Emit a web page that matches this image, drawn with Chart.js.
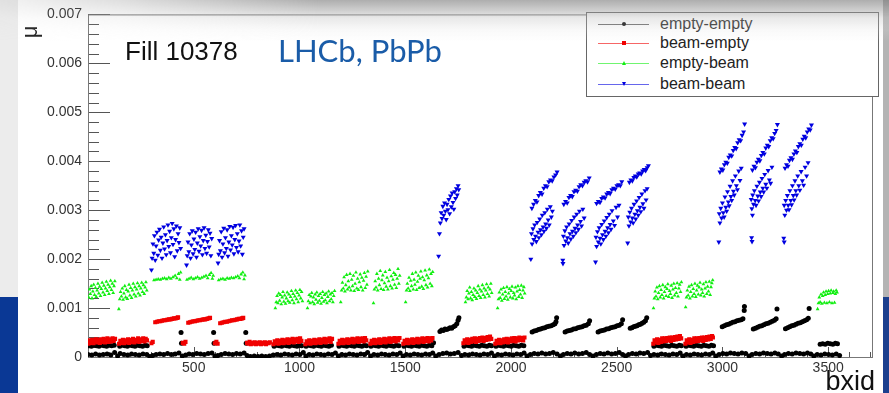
<!DOCTYPE html>
<html>
<head>
<meta charset="utf-8">
<title>Fill 10378 - mu per bxid</title>
<script src="https://cdn.jsdelivr.net/npm/chart.js@4.4.1/dist/chart.umd.min.js"></script>
<style>
    html, body { margin: 0; padding: 0; }
    body {
        width: 889px; height: 393px; position: relative; overflow: hidden;
        background: #fff; font-family: "Liberation Sans", Arial, sans-serif;
    }
    .strip { position: absolute; }
    #leftGrey  { left: 0; top: 0; width: 18px; height: 297px; background: #ececec; }
    #leftBlue  { left: 0; top: 297px; width: 18px; height: 96px; background: #0a3895; }
    #rightGrey { left: 883px; top: 0; width: 6px; height: 297px; background: #b4b4b4; }
    #rightBlue { left: 883px; top: 297px; width: 6px; height: 96px; background: #1b3f8e; }
    #wrap { position: absolute; left: 0; top: 0; width: 889px; height: 393px; }
    .txt { position: absolute; white-space: nowrap; line-height: 1; }
    #muLabel { left: 24px; top: 21px; font-size: 22px; color: #222; transform: rotate(-90deg); transform-origin: 50% 50%; }
    #fillLabel { left: 125px; top: 38px; font-size: 26px; color: #111; }
    #lhcbLabel { left: 278px; top: 35px; font-size: 31px; color: #1a5ca8; font-family: Lato, "Open Sans", sans-serif; }
    #bxidLabel { right: 14px; top: 368px; font-size: 27px; color: #111; }
    #legend {
        position: absolute; left: 586px; top: 12px; width: 293px; height: 85px;
        background: #fff; border: 1px solid #666; box-sizing: border-box;
    }
    .legRow { position: absolute; left: 0; width: 100%; height: 20px; }
    .legLine { position: absolute; left: 11px; top: 10px; width: 51px; height: 1px; opacity: 0.6; }
    .legMark { position: absolute; }
    .legText { position: absolute; left: 73px; top: 2px; font-size: 16px; color: #222; line-height: 1; }
    #topShade {
        position: absolute; left: 0; top: 0; width: 889px; height: 42px; pointer-events: none;
        background: linear-gradient(to bottom, rgba(120,120,120,0.6) 0px, rgba(150,150,150,0.5) 9px,
            rgba(190,190,190,0.35) 18px, rgba(225,225,225,0.2) 30px, rgba(255,255,255,0) 42px);
        -webkit-mask-image: linear-gradient(to right, rgba(0,0,0,0.15) 0px, rgba(0,0,0,0.4) 120px, rgba(0,0,0,1) 320px);
        mask-image: linear-gradient(to right, rgba(0,0,0,0.15) 0px, rgba(0,0,0,0.4) 120px, rgba(0,0,0,1) 320px);
    }
</style>
</head>
<body>
<div class="strip" id="leftGrey"></div>
<div class="strip" id="leftBlue"></div>
<div class="strip" id="rightGrey"></div>
<div class="strip" id="rightBlue"></div>
<div id="wrap"><canvas id="muChart" width="889" height="393"></canvas></div>
<div class="txt" id="muLabel">μ</div>
<div class="txt" id="fillLabel">Fill 10378</div>
<div class="txt" id="lhcbLabel">LHCb, PbPb</div>
<div class="txt" id="bxidLabel">bxid</div>
<div id="legend"></div>
<div id="topShade"></div>

<script>
// ---- data (mu in units of 1e-3) ----
const seriesNames = ['empty-empty', 'beam-empty', 'empty-beam', 'beam-beam'];

const xTickValues = [500, 1000, 1500, 2000, 2500, 3000, 3500];
const xTickLabels = ['500', '1000', '1500', '2000', '2500', '3000', '3500'];
const yTickValues = [0, 1, 2, 3, 4, 5, 6, 7];
const yTickLabels = ['0', '0.001', '0.002', '0.003', '0.004', '0.005', '0.006', '0.007'];

// empty-empty: baseline row near zero
const emptyEmptyBase = [
    [0,0.05],[18,0.04],[36,0.06],[54,0.04],[72,0.05],[90,0.06],[108,0.04],[126,0.09],[140,0.02],[152,0.07],
    [170,0.05],[188,0.04],[206,0.06],[224,0.05],[242,0.04],[260,0.06],[278,0.05],[292,0.01],
    [306,0.03],[322,0.05],[340,0.06],[358,0.05],[376,0.07],[394,0.05],[412,0.06],[430,0.08],[446,0.02],
    [462,0.04],[478,0.06],[496,0.05],[514,0.07],[532,0.06],[550,0.05],[568,0.07],[586,0.08],[600,0.02],
    [614,0.03],[630,0.05],[648,0.07],[666,0.06],[684,0.05],[702,0.07],[720,0.06],[738,0.08],[752,0.03],
    [768,0.01],[786,0.02],[804,0.01],[822,0.02],[840,0.01],[858,0.02],[876,0.04],[894,0.05],[912,0.04],
    [930,0.06],[948,0.05],[966,0.04],[984,0.06],[1002,0.05],[1018,0.09],[1030,0.02],[1046,0.05],[1064,0.04],
    [1082,0.06],[1100,0.05],[1118,0.04],[1136,0.06],[1154,0.05],[1170,0.08],[1184,0.02],[1200,0.05],
    [1218,0.04],[1236,0.06],[1254,0.05],[1272,0.04],[1290,0.06],[1308,0.05],[1322,0.09],[1336,0.02],
    [1352,0.05],[1370,0.04],[1388,0.06],[1406,0.05],[1424,0.04],[1442,0.06],[1460,0.05],[1476,0.08],
    [1490,0.02],[1506,0.05],[1524,0.04],[1542,0.06],[1560,0.05],[1578,0.04],[1596,0.06],[1614,0.05],
    [1630,0.08],[1644,0.02],[1660,0.05],[1678,0.07],[1696,0.08],[1714,0.06],[1732,0.07],[1750,0.09],
    [1766,0.03],[1782,0.05],[1800,0.04],[1818,0.06],[1836,0.05],[1854,0.04],[1872,0.06],[1890,0.05],
    [1908,0.08],[1922,0.02],[1938,0.05],[1956,0.04],[1974,0.06],[1992,0.05],[2010,0.04],[2028,0.06],
    [2046,0.05],[2062,0.08],[2076,0.02],[2092,0.05],[2110,0.07],[2128,0.06],[2146,0.08],[2164,0.06],
    [2182,0.07],[2200,0.09],[2218,0.06],[2234,0.02],[2248,0.05],[2266,0.07],[2284,0.06],[2302,0.08],
    [2320,0.06],[2338,0.07],[2356,0.09],[2372,0.05],[2388,0.02],[2404,0.05],[2422,0.07],[2440,0.06],
    [2458,0.08],[2476,0.06],[2494,0.07],[2512,0.09],[2528,0.05],[2542,0.02],[2556,0.05],[2574,0.07],
    [2592,0.06],[2610,0.08],[2628,0.07],[2646,0.09],[2660,0.03],[2676,0.05],[2694,0.04],[2712,0.06],
    [2730,0.05],[2748,0.04],[2766,0.06],[2784,0.05],[2800,0.08],[2814,0.02],[2830,0.05],[2848,0.04],
    [2866,0.06],[2884,0.05],[2902,0.04],[2920,0.06],[2938,0.05],[2954,0.08],[2968,0.02],[2984,0.05],
    [3002,0.07],[3020,0.06],[3038,0.08],[3056,0.07],[3074,0.06],[3092,0.08],[3110,0.07],[3126,0.02],
    [3140,0.05],[3158,0.07],[3176,0.06],[3194,0.08],[3212,0.07],[3230,0.06],[3248,0.08],[3264,0.06],
    [3280,0.02],[3294,0.05],[3312,0.07],[3330,0.06],[3348,0.08],[3366,0.07],[3384,0.06],[3402,0.08],
    [3418,0.06],[3432,0.02],[3448,0.05],[3466,0.04],[3484,0.06],[3502,0.05],[3520,0.04],[3538,0.06],
    [3554,0.03]
];

// empty-empty: row just below the beam-empty trains
const emptyEmptyMid = [
    [4,0.23],[16,0.22],[28,0.24],[40,0.23],[52,0.22],[64,0.24],[76,0.23],[88,0.22],[100,0.24],[112,0.23],[124,0.24],
    [150,0.22],[162,0.24],[174,0.23],[186,0.22],[198,0.24],[210,0.23],[222,0.22],[234,0.24],[246,0.23],[258,0.22],[270,0.24],[280,0.23],
    [440,0.50],[442,0.28],[594,0.50],[596,0.28],[746,0.50],[748,0.28],
    [880,0.22],[892,0.24],[904,0.23],[916,0.22],[928,0.24],[940,0.23],[952,0.22],[964,0.24],[976,0.23],[988,0.22],[1000,0.24],[1010,0.23],
    [1031,0.22],[1043,0.24],[1055,0.23],[1067,0.22],[1079,0.24],[1091,0.23],[1103,0.22],[1115,0.24],[1127,0.23],[1139,0.22],[1151,0.24],
    [1187,0.22],[1199,0.24],[1211,0.23],[1223,0.22],[1235,0.24],[1247,0.23],[1259,0.22],[1271,0.24],[1283,0.23],[1295,0.22],[1307,0.24],[1317,0.23],
    [1338,0.22],[1350,0.24],[1362,0.23],[1374,0.22],[1386,0.24],[1398,0.23],[1410,0.22],[1422,0.24],[1434,0.23],[1446,0.22],[1458,0.24],[1470,0.23],
    [1494,0.22],[1506,0.24],[1518,0.23],[1530,0.22],[1542,0.24],[1554,0.23],[1566,0.22],[1578,0.24],[1590,0.23],[1602,0.22],[1614,0.24],[1626,0.23],[1634,0.29],
    [1778,0.22],[1790,0.24],[1802,0.23],[1814,0.22],[1826,0.24],[1838,0.23],[1850,0.22],[1862,0.24],[1874,0.23],[1886,0.22],[1898,0.24],[1908,0.23],
    [1929,0.22],[1941,0.24],[1953,0.23],[1965,0.22],[1977,0.24],[1989,0.23],[2001,0.22],[2013,0.24],[2025,0.23],[2037,0.22],[2049,0.24],[2061,0.23],
    [2676,0.22],[2688,0.24],[2700,0.23],[2712,0.22],[2724,0.24],[2736,0.23],[2748,0.22],[2760,0.24],[2772,0.23],[2784,0.22],[2796,0.24],[2806,0.23],
    [2828,0.22],[2840,0.24],[2852,0.23],[2864,0.22],[2876,0.24],[2888,0.23],[2900,0.22],[2912,0.24],[2924,0.23],[2936,0.22],[2948,0.24],[2958,0.23],
    [3462,0.26],[3474,0.27],[3486,0.26],[3498,0.28],[3510,0.27],[3522,0.26],[3534,0.28],[3544,0.27]
];

// empty-empty: raised rows between the beam-beam trains
const emptyEmptyHigh = [
    [1664,0.52],[1672,0.55],[1680,0.54],[1688,0.57],[1696,0.56],[1704,0.58],[1712,0.60],[1720,0.59],[1728,0.62],[1736,0.64],[1744,0.68],[1750,0.75],[1754,0.80],
    [2100,0.51],[2110,0.53],[2120,0.54],[2130,0.56],[2140,0.57],[2150,0.59],[2160,0.60],[2170,0.62],[2180,0.63],[2190,0.64],[2200,0.66],[2208,0.68],[2213,0.72],[2216,0.80],
    [2256,0.51],[2266,0.53],[2276,0.54],[2286,0.55],[2296,0.57],[2306,0.58],[2316,0.60],[2326,0.61],[2336,0.62],[2346,0.64],[2356,0.65],[2366,0.68],[2372,0.74],
    [2412,0.51],[2422,0.53],[2432,0.54],[2442,0.55],[2452,0.57],[2462,0.58],[2472,0.60],[2482,0.61],[2492,0.62],[2502,0.64],[2512,0.65],[2522,0.68],[2528,0.76],
    [2564,0.59],[2572,0.60],[2580,0.62],[2588,0.63],[2596,0.64],[2604,0.66],[2612,0.67],[2620,0.69],[2628,0.71],[2636,0.74],[2642,0.80],
    [2999,0.62],[3009,0.64],[3019,0.66],[3029,0.67],[3039,0.69],[3049,0.71],[3059,0.72],[3069,0.74],[3079,0.75],[3089,0.76],[3097,0.78],[3103,0.95],[3104,1.03],
    [3146,0.57],[3156,0.59],[3166,0.61],[3176,0.63],[3186,0.64],[3196,0.66],[3206,0.68],[3216,0.69],[3226,0.71],[3236,0.73],[3246,0.75],[3254,0.78],[3258,0.98],
    [3298,0.58],[3308,0.60],[3318,0.62],[3328,0.64],[3338,0.65],[3348,0.67],[3358,0.69],[3368,0.70],[3378,0.72],[3388,0.74],[3398,0.76],[3406,0.79],[3410,0.99]
];

// beam-empty
const beamEmpty = [
    [2,0.27],[8,0.34],[14,0.29],[20,0.35],[26,0.28],[32,0.33],[38,0.36],[44,0.30],[50,0.35],[56,0.29],[62,0.36],[68,0.31],[74,0.37],[80,0.30],[86,0.35],[92,0.38],[98,0.31],[104,0.36],[110,0.32],[116,0.38],[122,0.33],[128,0.37],
    [147,0.27],[153,0.33],[159,0.29],[165,0.35],[171,0.28],[177,0.34],[183,0.30],[189,0.36],[195,0.29],[201,0.35],[207,0.31],[213,0.37],[219,0.30],[225,0.35],[231,0.32],[237,0.38],[243,0.31],[249,0.36],[255,0.33],[261,0.38],[267,0.32],[273,0.37],[279,0.34],
    [300,0.28],[306,0.31],
    [318,0.71],[326,0.72],[334,0.73],[342,0.73],[350,0.74],[358,0.75],[366,0.75],[374,0.76],[382,0.77],[390,0.77],[398,0.78],[406,0.79],[414,0.79],[422,0.80],[426,0.81],
    [448,0.29],[455,0.27],[461,0.31],
    [474,0.70],[482,0.71],[490,0.72],[498,0.73],[506,0.73],[514,0.74],[522,0.75],[530,0.75],[538,0.76],[546,0.77],[554,0.77],[562,0.78],[570,0.79],[577,0.80],
    [600,0.28],[607,0.31],[613,0.27],
    [625,0.69],[633,0.70],[641,0.71],[649,0.72],[657,0.72],[665,0.73],[673,0.74],[681,0.75],[689,0.75],[697,0.76],[705,0.77],[713,0.78],[721,0.78],[729,0.79],[734,0.80],
    [752,0.29],[758,0.27],[764,0.31],[770,0.26],[776,0.29],[782,0.27],[788,0.30],[794,0.26],[800,0.29],[806,0.27],[812,0.30],[818,0.26],[824,0.29],[830,0.27],[836,0.30],[842,0.26],[848,0.29],[854,0.28],[860,0.30],
    [877,0.26],[883,0.32],[889,0.28],[895,0.34],[901,0.27],[907,0.33],[913,0.29],[919,0.35],[925,0.28],[931,0.34],[937,0.30],[943,0.36],[949,0.29],[955,0.35],[961,0.31],[967,0.37],[973,0.30],[979,0.36],[985,0.32],[991,0.37],[997,0.31],[1003,0.38],[1009,0.33],
    [1028,0.26],[1034,0.32],[1040,0.28],[1046,0.34],[1052,0.27],[1058,0.33],[1064,0.29],[1070,0.35],[1076,0.28],[1082,0.34],[1088,0.30],[1094,0.36],[1100,0.29],[1106,0.35],[1112,0.31],[1118,0.37],[1124,0.30],[1130,0.36],[1136,0.32],[1142,0.38],[1148,0.31],[1154,0.37],
    [1184,0.27],[1190,0.33],[1196,0.29],[1202,0.35],[1208,0.28],[1214,0.34],[1220,0.30],[1226,0.36],[1232,0.29],[1238,0.35],[1244,0.31],[1250,0.37],[1256,0.30],[1262,0.36],[1268,0.32],[1274,0.38],[1280,0.31],[1286,0.37],[1292,0.33],[1298,0.38],[1304,0.32],[1310,0.39],[1316,0.34],
    [1335,0.27],[1341,0.33],[1347,0.29],[1353,0.35],[1359,0.28],[1365,0.34],[1371,0.30],[1377,0.36],[1383,0.29],[1389,0.35],[1395,0.31],[1401,0.37],[1407,0.30],[1413,0.36],[1419,0.32],[1425,0.38],[1431,0.31],[1437,0.37],[1443,0.33],[1449,0.39],[1455,0.32],[1461,0.38],[1467,0.34],[1473,0.39],
    [1491,0.27],[1497,0.33],[1503,0.29],[1509,0.35],[1515,0.28],[1521,0.34],[1527,0.30],[1533,0.36],[1539,0.29],[1545,0.35],[1551,0.31],[1557,0.37],[1563,0.30],[1569,0.36],[1575,0.32],[1581,0.38],[1587,0.31],[1593,0.37],[1599,0.33],[1605,0.39],[1611,0.32],[1617,0.38],[1623,0.34],[1629,0.39],
    [1775,0.28],[1781,0.34],[1787,0.30],[1793,0.36],[1799,0.29],[1805,0.35],[1811,0.31],[1817,0.37],[1823,0.32],[1829,0.38],[1835,0.31],[1841,0.37],[1847,0.33],[1853,0.39],[1859,0.34],[1865,0.40],[1871,0.33],[1877,0.39],[1883,0.35],[1889,0.41],[1895,0.36],[1901,0.42],[1907,0.37],
    [1926,0.27],[1932,0.33],[1938,0.29],[1944,0.35],[1950,0.28],[1956,0.34],[1962,0.30],[1968,0.36],[1974,0.31],[1980,0.37],[1986,0.30],[1992,0.36],[1998,0.32],[2004,0.38],[2010,0.33],[2016,0.39],[2022,0.32],[2028,0.38],[2034,0.34],[2040,0.40],[2046,0.35],[2052,0.39],[2058,0.34],[2064,0.40],
    [2673,0.27],[2679,0.34],[2685,0.30],[2691,0.36],[2697,0.29],[2703,0.35],[2709,0.31],[2715,0.38],[2721,0.32],[2727,0.38],[2733,0.33],[2739,0.39],[2745,0.34],[2751,0.40],[2757,0.33],[2763,0.40],[2769,0.35],[2775,0.41],[2781,0.36],[2787,0.42],[2793,0.37],[2799,0.43],[2805,0.38],
    [2825,0.27],[2831,0.34],[2837,0.30],[2843,0.36],[2849,0.29],[2855,0.35],[2861,0.31],[2867,0.38],[2873,0.32],[2879,0.38],[2885,0.33],[2891,0.39],[2897,0.34],[2903,0.40],[2909,0.33],[2915,0.40],[2921,0.35],[2927,0.41],[2933,0.36],[2939,0.42],[2945,0.37],[2951,0.43],[2955,0.40]
];

// empty-beam
const emptyBeam = [
    [3,1.22],[7,1.38],[11,1.29],[15,1.45],[19,1.20],[23,1.34],[27,1.48],[31,1.27],[35,1.41],[39,1.23],[43,1.36],[47,1.50],[51,1.30],[55,1.44],[59,1.25],[63,1.39],[67,1.52],[71,1.32],[75,1.46],[79,1.27],[83,1.40],[87,1.54],[91,1.35],[95,1.48],[99,1.29],[103,1.43],[107,1.56],[111,1.37],[115,1.50],[119,1.31],[123,1.45],[127,1.55],
    [146,0.98],[150,1.18],[154,1.33],[158,1.24],[162,1.40],[166,1.17],[170,1.30],[174,1.45],[178,1.22],[182,1.37],[186,1.19],[190,1.34],[194,1.48],[198,1.26],[202,1.41],[206,1.21],[210,1.36],[214,1.50],[218,1.28],[222,1.43],[226,1.24],[230,1.38],[234,1.51],[238,1.30],[242,1.45],[246,1.26],[250,1.40],[254,1.52],[258,1.33],[262,1.47],[266,1.29],[270,1.42],[274,1.53],[278,1.36],
    [312,1.57],[322,1.58],[332,1.59],[342,1.58],[352,1.60],[362,1.61],[372,1.59],[382,1.62],[392,1.60],[402,1.63],[412,1.66],[420,1.61],[428,1.70],[434,1.58],[438,1.73],
    [468,1.58],[478,1.60],[488,1.62],[498,1.59],[508,1.61],[518,1.63],[528,1.60],[538,1.62],[548,1.64],[558,1.66],[566,1.61],[574,1.68],[582,1.72],[588,1.60],[592,1.66],
    [618,1.57],[628,1.59],[638,1.60],[648,1.58],[658,1.61],[668,1.60],[678,1.62],[688,1.61],[698,1.63],[708,1.65],[716,1.61],[724,1.69],[732,1.73],[738,1.59],[742,1.67],
    [886,1.00],[890,1.12],[894,1.25],[898,1.10],[902,1.30],[906,1.15],[910,1.27],[914,1.08],[918,1.22],[922,1.33],[926,1.13],[930,1.26],[934,1.09],[938,1.20],[942,1.32],[946,1.14],[950,1.28],[954,1.11],[958,1.23],[962,1.35],[966,1.16],[970,1.29],[974,1.10],[978,1.24],[982,1.36],[986,1.18],[990,1.31],[994,1.12],[998,1.26],[1002,1.37],[1006,1.20],[1010,1.33],[1014,1.14],
    [1038,1.00],[1042,1.14],[1046,1.27],[1050,1.10],[1054,1.24],[1058,1.31],[1062,1.12],[1066,1.22],[1070,1.08],[1074,1.28],[1078,1.17],[1082,1.32],[1086,1.11],[1090,1.25],[1094,1.15],[1098,1.29],[1102,1.09],[1106,1.21],[1110,1.33],[1114,1.13],[1118,1.27],[1122,1.16],[1126,1.30],[1130,1.10],[1134,1.23],[1138,1.34],[1142,1.14],[1146,1.28],[1150,1.18],[1154,1.31],[1158,1.12],[1162,1.25],[1166,1.35],
    [1195,1.12],[1199,1.36],[1203,1.52],[1207,1.40],[1211,1.63],[1215,1.34],[1219,1.47],[1223,1.68],[1227,1.38],[1231,1.55],[1235,1.42],[1239,1.70],[1243,1.36],[1247,1.58],[1251,1.45],[1255,1.66],[1259,1.35],[1263,1.50],[1267,1.73],[1271,1.40],[1275,1.60],[1279,1.37],[1283,1.53],[1287,1.69],[1291,1.43],[1295,1.62],[1299,1.36],[1303,1.56],[1307,1.72],[1311,1.41],[1315,1.64],[1319,1.48],[1323,1.75],
    [1350,1.10],[1354,1.38],[1358,1.55],[1362,1.42],[1366,1.70],[1370,1.36],[1374,1.60],[1378,1.47],[1382,1.76],[1386,1.39],[1390,1.57],[1394,1.67],[1398,1.37],[1402,1.51],[1406,1.74],[1410,1.44],[1414,1.62],[1418,1.38],[1422,1.55],[1426,1.78],[1430,1.45],[1434,1.65],[1438,1.40],[1442,1.58],[1446,1.72],[1450,1.48],[1454,1.68],[1458,1.41],[1462,1.60],[1466,1.80],[1470,1.50],[1474,1.66],
    [1502,1.12],[1506,1.36],[1510,1.50],[1514,1.40],[1518,1.62],[1522,1.35],[1526,1.56],[1530,1.45],[1534,1.70],[1538,1.38],[1542,1.58],[1546,1.48],[1550,1.73],[1554,1.37],[1558,1.54],[1562,1.66],[1566,1.41],[1570,1.60],[1574,1.75],[1578,1.44],[1582,1.63],[1586,1.39],[1590,1.57],[1594,1.77],[1598,1.47],[1602,1.67],[1606,1.42],[1610,1.61],[1614,1.79],[1618,1.50],[1622,1.70],[1626,1.45],[1630,1.74],
    [1785,1.12],[1789,1.22],[1793,1.35],[1797,1.18],[1801,1.30],[1805,1.42],[1809,1.20],[1813,1.33],[1817,1.16],[1821,1.27],[1825,1.40],[1829,1.23],[1833,1.36],[1837,1.19],[1841,1.31],[1845,1.45],[1849,1.25],[1853,1.38],[1857,1.21],[1861,1.34],[1865,1.47],[1869,1.27],[1873,1.40],[1877,1.22],[1881,1.36],[1885,1.49],[1889,1.29],[1893,1.42],[1897,1.24],[1901,1.38],[1905,1.50],[1909,1.31],
    [1937,1.00],[1941,1.18],[1945,1.32],[1949,1.21],[1953,1.38],[1957,1.15],[1961,1.28],[1965,1.41],[1969,1.19],[1973,1.33],[1977,1.24],[1981,1.43],[1985,1.17],[1989,1.30],[1993,1.39],[1997,1.22],[2001,1.35],[2005,1.44],[2009,1.20],[2013,1.31],[2017,1.26],[2021,1.42],[2025,1.18],[2029,1.34],[2033,1.45],[2037,1.23],[2041,1.37],[2045,1.28],[2049,1.46],[2053,1.21],[2057,1.36],[2061,1.43],[2065,1.30],
    [2674,1.00],[2678,1.20],[2682,1.34],[2686,1.24],[2690,1.42],[2694,1.18],[2698,1.31],[2702,1.45],[2706,1.22],[2710,1.37],[2714,1.27],[2718,1.47],[2722,1.20],[2726,1.33],[2730,1.43],[2734,1.25],[2738,1.39],[2742,1.49],[2746,1.23],[2750,1.35],[2754,1.29],[2758,1.46],[2762,1.21],[2766,1.38],[2770,1.50],[2774,1.26],[2778,1.41],[2782,1.31],[2786,1.51],[2790,1.24],[2794,1.40],[2798,1.48],[2802,1.33],[2806,1.53],
    [2826,1.02],[2830,1.22],[2834,1.36],[2838,1.26],[2842,1.44],[2846,1.20],[2850,1.33],[2854,1.47],[2858,1.24],[2862,1.39],[2866,1.29],[2870,1.50],[2874,1.23],[2878,1.36],[2882,1.46],[2886,1.28],[2890,1.42],[2894,1.52],[2898,1.26],[2902,1.38],[2906,1.31],[2910,1.49],[2914,1.24],[2918,1.40],[2922,1.53],[2926,1.29],[2930,1.44],[2934,1.34],[2938,1.54],[2942,1.27],[2946,1.43],[2950,1.51],[2954,1.57],
    [3450,0.98],[3454,1.10],[3458,1.22],[3462,1.12],[3466,1.28],[3470,1.09],[3474,1.25],[3478,1.32],[3482,1.11],[3486,1.27],[3490,1.34],[3494,1.10],[3498,1.29],[3502,1.35],[3506,1.12],[3510,1.30],[3514,1.36],[3518,1.10],[3522,1.31],[3526,1.34],[3530,1.11],[3534,1.29],[3538,1.36],[3542,1.32]
];

// beam-beam
const beamBeam = [
    [300,1.78],[303,2.02],[307,2.31],[311,2.12],[314,2.48],[318,1.98],[322,2.27],[326,2.55],[330,2.08],[334,2.39],[338,2.61],[342,2.18],[346,2.45],[350,2.02],[354,2.33],[358,2.66],[362,2.21],[366,2.50],[370,2.09],[374,2.38],[378,2.70],[382,2.26],[386,2.57],[390,2.13],[394,2.44],[398,2.73],[402,2.30],[406,2.62],[410,2.05],[414,2.40],[418,2.68],[422,2.17],[426,2.52],[430,2.34],[434,2.64],[438,2.22],
    [466,1.88],[469,2.07],[473,2.35],[477,2.15],[481,2.52],[485,2.02],[489,2.29],[493,2.58],[497,2.11],[501,2.41],[505,2.20],[509,2.55],[513,2.04],[517,2.33],[521,2.62],[525,2.16],[529,2.46],[533,2.27],[537,2.59],[541,2.09],[545,2.38],[549,2.64],[553,2.22],[557,2.49],[561,2.12],[565,2.36],[569,2.60],[573,2.25],[577,2.53],[581,2.07],[585,2.42],
    [615,1.92],[618,2.10],[622,2.38],[626,2.17],[630,2.56],[634,2.04],[638,2.31],[642,2.63],[646,2.13],[650,2.44],[654,2.22],[658,2.60],[662,2.06],[666,2.35],[670,2.67],[674,2.19],[678,2.48],[682,2.29],[686,2.65],[690,2.11],[694,2.40],[698,2.69],[702,2.24],[706,2.52],[710,2.15],[714,2.37],[718,2.70],[722,2.27],[726,2.58],[730,2.10],[734,2.45],[738,2.62],
    [1658,2.06],[1662,2.52],[1666,2.74],[1670,2.95],[1674,2.83],[1678,3.08],[1682,2.90],[1686,3.15],[1690,2.98],[1694,2.81],[1698,3.12],[1702,3.01],[1706,3.22],[1710,2.93],[1714,3.29],[1718,3.07],[1722,3.35],[1726,3.16],[1730,3.02],[1734,3.38],[1738,3.24],[1742,3.44],[1746,3.31],[1750,3.50],[1753,3.42],
    [2094,2.00],
    [2097,2.52],[2100,2.31],[2104,2.62],[2108,2.40],[2112,2.70],[2116,2.47],[2120,2.36],[2124,2.75],[2128,2.55],[2132,2.44],[2136,2.82],[2140,2.60],[2144,2.50],[2148,2.90],[2152,2.66],[2156,2.57],[2160,2.95],[2164,2.72],[2168,2.63],[2172,3.02],[2176,2.80],[2181,2.70],[2186,3.07],[2191,2.86],[2196,2.98],
    [2099,3.04],[2107,3.12],[2115,3.20],[2123,3.17],[2131,3.30],[2139,3.36],[2147,3.33],[2155,3.45],[2163,3.50],[2171,3.48],[2179,3.58],[2187,3.62],[2195,3.60],[2203,3.68],[2211,3.72],[2218,3.78],
    [2245,1.98],[2246,1.91],
    [2248,2.47],[2251,2.28],[2255,2.58],[2259,2.37],[2263,2.66],[2267,2.44],[2271,2.33],[2275,2.72],[2279,2.52],[2283,2.41],[2287,2.79],[2291,2.57],[2295,2.47],[2299,2.86],[2303,2.63],[2307,2.54],[2311,2.92],[2315,2.70],[2319,2.61],[2324,2.98],[2329,2.77],[2334,2.68],[2340,3.02],[2346,2.84],
    [2250,3.12],[2258,3.18],[2266,3.15],[2274,3.26],[2282,3.30],[2290,3.28],[2298,3.38],[2306,3.41],[2314,3.39],[2322,3.48],[2330,3.52],[2338,3.50],[2346,3.57],[2354,3.60],[2362,3.58],[2370,3.66],
    [2400,1.94],
    [2402,2.45],[2405,2.26],[2409,2.56],[2413,2.35],[2417,2.64],[2421,2.43],[2425,2.31],[2429,2.71],[2433,2.50],[2437,2.40],[2441,2.78],[2445,2.57],[2449,2.47],[2453,2.85],[2457,2.64],[2461,2.54],[2465,2.92],[2469,2.71],[2473,2.61],[2478,2.99],[2484,2.78],[2490,2.69],[2497,3.06],[2504,2.86],[2511,3.10],
    [2405,3.14],[2413,3.18],[2421,3.16],[2429,3.24],[2437,3.27],[2445,3.25],[2453,3.33],[2461,3.36],[2469,3.34],[2477,3.42],[2485,3.45],[2493,3.43],[2501,3.50],[2509,3.52],[2517,3.50],[2524,3.58],
    [2552,2.33],
    [2555,2.86],[2558,2.68],[2562,2.96],[2566,2.76],[2570,3.04],[2574,2.84],[2578,2.74],[2582,3.12],[2586,2.92],[2590,2.82],[2594,3.19],[2598,2.99],[2602,2.90],[2606,3.26],[2610,3.06],[2614,2.97],[2619,3.33],[2624,3.13],[2629,3.04],[2634,3.40],[2639,3.21],[2644,3.44],
    [2560,3.57],[2567,3.62],[2574,3.60],[2581,3.67],[2588,3.70],[2595,3.68],[2602,3.74],[2609,3.76],[2616,3.74],[2623,3.80],[2630,3.83],[2637,3.81],[2644,3.87],[2650,3.91],
    [2983,2.35],
    [2985,2.93],[2988,2.74],[2992,3.04],[2996,2.84],[3000,3.15],[3004,2.95],[3008,2.86],[3012,3.27],[3016,3.06],[3020,2.98],[3024,3.38],[3028,3.17],[3032,3.09],[3036,3.49],[3040,3.28],[3044,3.20],[3048,3.60],[3052,3.39],[3056,3.31],[3061,3.70],[3066,3.50],[3071,3.42],[3077,3.80],[3083,3.61],[3089,3.86],
    [2988,3.78],[2995,3.84],[3002,3.82],[3009,3.93],[3016,3.98],[3023,3.96],[3030,4.08],[3037,4.13],[3044,4.11],[3051,4.22],[3058,4.28],[3065,4.26],[3072,4.38],[3079,4.44],[3086,4.42],[3093,4.53],[3100,4.60],[3105,4.76],
    [3138,2.44],[3140,2.36],[3142,2.90],
    [3136,3.22],[3139,3.03],[3143,3.31],[3147,3.12],[3151,3.40],[3155,3.20],[3159,3.10],[3163,3.49],[3167,3.29],[3171,3.19],[3175,3.57],[3179,3.37],[3183,3.28],[3187,3.65],[3191,3.45],[3195,3.37],[3200,3.73],[3205,3.53],[3210,3.45],[3216,3.81],[3222,3.62],[3228,3.55],[3234,3.88],
    [3142,3.82],[3149,3.90],[3156,3.87],[3163,3.98],[3170,4.04],[3177,4.01],[3184,4.12],[3191,4.18],[3198,4.15],[3205,4.27],[3212,4.33],[3219,4.30],[3226,4.42],[3233,4.48],[3240,4.46],[3247,4.57],[3254,4.63],[3260,4.75],
    [3290,2.43],[3292,2.35],
    [3292,3.10],[3295,2.90],[3299,3.20],[3303,3.00],[3307,3.30],[3311,3.10],[3315,3.01],[3319,3.40],[3323,3.20],[3327,3.11],[3331,3.50],[3335,3.30],[3339,3.21],[3343,3.60],[3347,3.40],[3351,3.31],[3356,3.70],[3361,3.50],[3366,3.41],[3372,3.79],[3378,3.60],[3384,3.51],[3391,3.88],[3398,3.70],[3405,3.97],
    [3296,3.86],[3303,3.93],[3310,3.90],[3317,4.02],[3324,4.07],[3331,4.04],[3338,4.15],[3345,4.21],[3352,4.18],[3359,4.30],[3366,4.36],[3373,4.33],[3380,4.45],[3387,4.51],[3394,4.48],[3401,4.60],[3408,4.66],[3415,4.64],[3421,4.74]
];

// ---- styling ----
const seriesColors = ['#000000', '#f00000', '#10ee10', '#0000e0'];
const X_MAX = 3712;
const Y_MIN = -0.02;
const Y_MAX = 7.0;

function toPoints(pairs) {
    return pairs.map(p => ({ x: p[0], y: p[1] }));
}

// ROOT-style frame with ticks pointing into the plot
const rootFrame = {
    id: 'rootFrame',
    beforeDatasetsDraw(chart) {
        const { ctx, chartArea: a, scales } = chart;
        const xs = scales.x, ys = scales.y;
        ctx.save();
        ctx.strokeStyle = '#555';
        ctx.lineWidth = 1;
        ctx.beginPath();
        // y axis: major every 0.001, minor every 0.0002
        for (let i = 0; i <= 35; i++) {
            const py = Math.round(ys.getPixelForValue(i * 0.2)) + 0.5;
            const len = (i % 5 === 0) ? 22 : 11;
            ctx.moveTo(a.left, py);
            ctx.lineTo(a.left + len, py);
        }
        // x axis: major every 500, minor every 100
        for (let i = 1; i <= 37; i++) {
            const px = Math.round(xs.getPixelForValue(i * 100)) + 0.5;
            const len = (i % 5 === 0) ? 11 : 6;
            ctx.moveTo(px, a.bottom);
            ctx.lineTo(px, a.bottom - len);
        }
        ctx.stroke();
        ctx.strokeStyle = '#777';
        ctx.strokeRect(a.left + 0.5, a.top + 0.5, a.right - a.left - 1, a.bottom - a.top - 1);
        ctx.restore();
    }
};

const datasets = [
    { label: seriesNames[0], data: toPoints(emptyEmptyBase.concat(emptyEmptyMid, emptyEmptyHigh)),
      pointStyle: 'circle', pointRadius: 2.5, order: 4 },
    { label: seriesNames[1], data: toPoints(beamEmpty),
      pointStyle: 'rect', pointRadius: 2.9, order: 3 },
    { label: seriesNames[2], data: toPoints(emptyBeam),
      pointStyle: 'triangle', pointRadius: 2.2, order: 2 },
    { label: seriesNames[3], data: toPoints(beamBeam),
      pointStyle: 'triangle', pointRotation: 180, pointRadius: 2.9, order: 1 }
].map((ds, i) => Object.assign(ds, {
    showLine: false,
    backgroundColor: seriesColors[i],
    borderColor: seriesColors[i],
    pointBorderWidth: 0,
    pointHoverRadius: 0
}));

const tickFont = { family: 'Liberation Sans', size: 14 };

new Chart(document.getElementById('muChart'), {
    type: 'scatter',
    data: { datasets: datasets },
    options: {
        responsive: false,
        animation: false,
        events: [],
        layout: { padding: { left: 0, top: 14, right: 16, bottom: 0 } },
        plugins: { legend: { display: false }, tooltip: { enabled: false } },
        scales: {
            x: {
                type: 'linear', min: 0, max: X_MAX,
                grid: { display: false, drawTicks: false },
                border: { display: false },
                afterBuildTicks: s => { s.ticks = xTickValues.map(v => ({ value: v })); },
                afterFit: s => { s.height = 35; },
                ticks: {
                    font: tickFont, color: '#333', padding: 2, maxRotation: 0,
                    callback: (v, i) => xTickLabels[i]
                }
            },
            y: {
                type: 'linear', min: Y_MIN, max: Y_MAX,
                grid: { display: false, drawTicks: false },
                border: { display: false },
                afterBuildTicks: s => { s.ticks = yTickValues.map(v => ({ value: v })); },
                afterFit: s => { s.width = 88; },
                ticks: {
                    font: tickFont, color: '#333', padding: 6,
                    callback: (v, i) => yTickLabels[i]
                }
            }
        }
    },
    plugins: [rootFrame]
});

// legend box (ROOT TLegend look)
const legendRows = [1, 20, 40, 61];
const legend = document.getElementById('legend');
seriesNames.forEach((name, i) => {
    const row = document.createElement('div');
    row.className = 'legRow';
    row.style.top = legendRows[i] + 'px';
    const line = document.createElement('div');
    line.className = 'legLine';
    line.style.background = seriesColors[i];
    const mark = document.createElement('div');
    mark.className = 'legMark';
    if (i === 0) {
        Object.assign(mark.style, { left: '35px', top: '8px', width: '4px', height: '4px', borderRadius: '50%', background: '#000' });
    } else if (i === 1) {
        Object.assign(mark.style, { left: '35px', top: '8px', width: '4px', height: '4px', background: seriesColors[1] });
    } else if (i === 2) {
        Object.assign(mark.style, { left: '35px', top: '8px', width: '0', height: '0', borderLeft: '2px solid transparent',
            borderRight: '2px solid transparent', borderBottom: '4px solid ' + seriesColors[2] });
    } else {
        Object.assign(mark.style, { left: '35px', top: '8px', width: '0', height: '0', borderLeft: '2.5px solid transparent',
            borderRight: '2.5px solid transparent', borderTop: '4px solid ' + seriesColors[3] });
    }
    const text = document.createElement('div');
    text.className = 'legText';
    text.textContent = name;
    row.appendChild(line);
    row.appendChild(mark);
    row.appendChild(text);
    legend.appendChild(row);
});
</script>
</body>
</html>
